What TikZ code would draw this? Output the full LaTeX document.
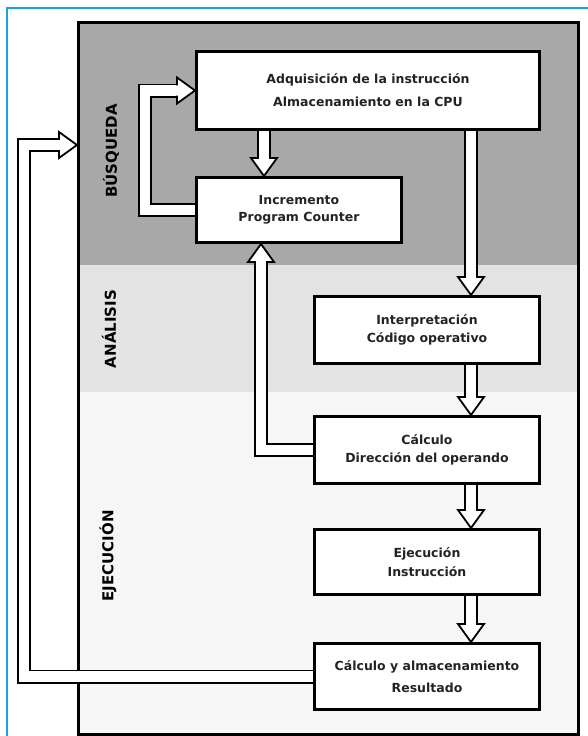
\documentclass[tikz,border=0pt]{standalone}
\usepackage{fontspec}
\setmainfont{DejaVu Sans}
\usetikzlibrary{calc}
\pgfdeclarelayer{back}
\pgfdeclarelayer{mid}
\pgfsetlayers{back,mid,main}
\definecolor{bandA}{RGB}{168,168,168}
\definecolor{bandB}{RGB}{227,227,227}
\definecolor{bandC}{RGB}{246,246,246}
\definecolor{frameblue}{RGB}{20,165,225}
\definecolor{txt}{RGB}{35,35,35}
\newcommand\hhead[2]{\begin{scope}[shift={#1},rotate=#2]
 \fill[white] (0,0) -- (-18,13) -- (-18,-13) -- cycle;
 \draw[black,line width=1.8pt,line join=miter] (-18,5.2) -- (-18,13) -- (0,0) -- (-18,-13) -- (-18,-5.2);
\end{scope}}
\tikzset{
 box/.style={draw=black, line width=3pt, fill=white, anchor=north west, inner sep=0pt,
   align=center, text=txt, font=\bfseries\fontsize{12.5}{14.6}\selectfont},
 dbl/.style={draw=black, line width=1.8pt, double=white, double distance=10.4pt, line join=miter},
 phase/.style={rotate=90, text=black, font=\bfseries\fontsize{15}{18}\selectfont, inner sep=0pt},
 panelbox/.style={draw=black, line width=3pt, anchor=north west, inner sep=0pt, minimum width=500pt, minimum height=712pt}
}
\begin{document}
\begin{tikzpicture}[x=1pt,y=-1pt]
\useasboundingbox (0,0) rectangle (587,736);
% frame
\draw[frameblue, line width=2pt] (7,740) -- (7,8) -- (590,8);
% bands
\begin{pgfonlayer}{back}
 \fill[bandA] (77,21) rectangle (577,265);
 \fill[bandB] (77,265) rectangle (577,392);
 \fill[bandC] (77,392) rectangle (577,733);
 \node[panelbox] (panel) at (77,21) {};
\end{pgfonlayer}
% phase labels
\node[phase] (lb) at (111,151) {BÚSQUEDA};
\node[phase] (la) at (109,329) {ANÁLISIS};
\node[phase] (le) at (108,556) {EJECUCIÓN};
% boxes
\node[box, minimum width=343pt, minimum height=78pt] (b1) at (195,50)
  {Adquisición de la instrucción\\[8.5pt]Almacenamiento en la CPU};
\node[box, minimum width=205pt, minimum height=65pt] (b2) at (195,176)
  {Incremento\\[2pt]Program Counter};
\node[box, minimum width=225pt, minimum height=67pt] (b3) at (313,295)
  {Interpretación\\[3pt]Código operativo};
\node[box, minimum width=225pt, minimum height=67pt] (b4) at (313,415)
  {Cálculo\\[3pt]Dirección del operando};
\node[box, minimum width=225pt, minimum height=65pt] (b5) at (313,528)
  {Ejecución\\[4.5pt]Instrucción};
\node[box, minimum width=225pt, minimum height=66pt] (b6) at (313,642)
  {Cálculo y almacenamiento\\[7.5pt]Resultado};
% connector guide coordinates
\coordinate (xA) at (264,0);
\coordinate (xB) at (471,0);
\coordinate (xL1) at (145,0);
\coordinate (xL2) at (261,0);
\coordinate (xL3) at (24,0);
\coordinate (in3) at (77,145);
\begin{pgfonlayer}{mid}
 % b1 -> b2
 \draw[dbl] (b1.south -| xA) -- ($(b2.north -| xA)+(0,-18)$);
 \hhead{(b2.north -| xA)}{-90}
 % b1 -> b3
 \draw[dbl] (b1.south -| xB) -- ($(b3.north -| xB)+(0,-18)$);
 \hhead{(b3.north -| xB)}{-90}
 % b3 -> b4
 \draw[dbl] (b3.south -| xB) -- ($(b4.north -| xB)+(0,-18)$);
 \hhead{(b4.north -| xB)}{-90}
 % b4 -> b5
 \draw[dbl] (b4.south -| xB) -- ($(b5.north -| xB)+(0,-18)$);
 \hhead{(b5.north -| xB)}{-90}
 % b5 -> b6
 \draw[dbl] (b5.south -| xB) -- ($(b6.north -| xB)+(0,-18)$);
 \hhead{(b6.north -| xB)}{-90}
 % b2 -> b1 loop
 \draw[dbl] (b2.west) -| (xL1 |- b1.west) -- ($(b1.west)+(-18,0)$);
 \hhead{(b1.west)}{0}
 % b4 -> b2 loop
 \draw[dbl] (b4.west) -| ($(xL2 |- b2.south)+(0,18)$);
 \hhead{(xL2 |- b2.south)}{90}
 % b6 -> start loop
 \draw[dbl] (b6.west) -| (xL3 |- in3) -- ($(in3)+(-18,0)$);
 \hhead{(in3)}{0}
\end{pgfonlayer}
\end{tikzpicture}
\end{document}
